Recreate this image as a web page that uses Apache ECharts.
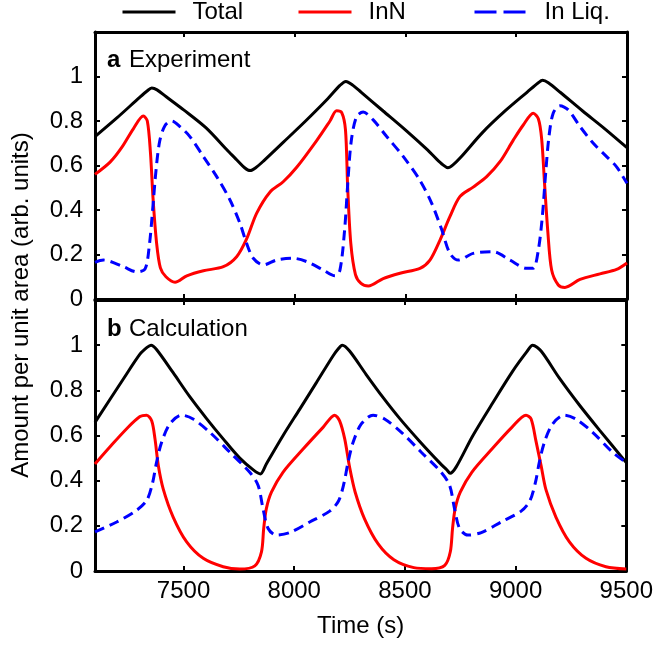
<!DOCTYPE html>
<html>
<head>
<meta charset="utf-8">
<script src="https://cdn.jsdelivr.net/npm/echarts@6/dist/echarts.min.js"></script>
<style>
    html, body { margin: 0; padding: 0; background: #fff; }
    #chart { width: 656px; height: 647px; }
</style>
</head>
<body>
<div id="chart"></div>
<script>
"use strict";

// Series names (legend)
const seriesNames = ["Total", "InN", "In Liq."];

// Panel a: Experiment, [time (s), amount]
const expTotal = [[7100,0.73],[7200,0.815],[7300,0.905],[7335,0.935],[7356,0.948],[7380,0.94],[7420,0.91],[7500,0.85],[7600,0.77],[7700,0.665],[7740,0.625],[7775,0.59],[7800,0.577],[7825,0.59],[7860,0.62],[7950,0.705],[8050,0.8],[8150,0.9],[8205,0.96],[8232,0.978],[8260,0.963],[8300,0.93],[8400,0.845],[8500,0.76],[8600,0.67],[8640,0.63],[8670,0.603],[8692,0.59],[8715,0.603],[8750,0.637],[8850,0.75],[8950,0.845],[9050,0.93],[9100,0.972],[9119,0.983],[9145,0.972],[9200,0.928],[9300,0.845],[9400,0.765],[9500,0.68]];
const expInN = [[7100,0.56],[7168,0.615],[7220,0.68],[7273,0.765],[7318,0.822],[7336,0.80],[7350,0.66],[7362,0.45],[7378,0.25],[7395,0.14],[7420,0.10],[7461,0.075],[7514,0.104],[7589,0.127],[7679,0.145],[7739,0.19],[7784,0.27],[7829,0.385],[7889,0.48],[7949,0.527],[8010,0.592],[8100,0.712],[8160,0.80],[8190,0.846],[8213,0.838],[8230,0.76],[8240,0.5],[8254,0.25],[8275,0.11],[8300,0.07],[8333,0.058],[8400,0.092],[8476,0.116],[8566,0.138],[8611,0.175],[8656,0.264],[8701,0.37],[8746,0.46],[8806,0.503],[8867,0.55],[8927,0.617],[8987,0.714],[9032,0.782],[9077,0.835],[9100,0.81],[9115,0.72],[9128,0.52],[9143,0.3],[9160,0.13],[9190,0.063],[9220,0.052],[9288,0.088],[9378,0.113],[9453,0.133],[9500,0.162]];
const expLiq = [[7100,0.165],[7138,0.175],[7228,0.145],[7288,0.122],[7326,0.135],[7345,0.24],[7360,0.4],[7375,0.576],[7392,0.71],[7416,0.78],[7446,0.8],[7483,0.775],[7528,0.73],[7589,0.64],[7649,0.55],[7709,0.445],[7754,0.34],[7784,0.25],[7814,0.183],[7859,0.153],[7919,0.175],[7994,0.183],[8055,0.168],[8130,0.13],[8183,0.104],[8205,0.13],[8226,0.31],[8241,0.53],[8256,0.71],[8280,0.82],[8310,0.84],[8355,0.805],[8416,0.73],[8491,0.64],[8566,0.533],[8619,0.43],[8664,0.312],[8701,0.205],[8739,0.175],[8806,0.205],[8897,0.212],[8972,0.175],[9047,0.138],[9077,0.138],[9100,0.22],[9118,0.37],[9133,0.565],[9148,0.73],[9167,0.835],[9197,0.868],[9235,0.85],[9288,0.775],[9348,0.7],[9408,0.64],[9453,0.594],[9500,0.52]];

// Panel b: Calculation, [time (s), amount]
const calcTotal = [[7100,0.658],[7228,0.85],[7303,0.96],[7335,0.99],[7353,1.0],[7378,0.981],[7453,0.878],[7528,0.772],[7604,0.675],[7679,0.585],[7754,0.5],[7815,0.448],[7847,0.43],[7874,0.474],[7949,0.599],[8025,0.717],[8100,0.834],[8175,0.952],[8200,0.985],[8217,1.0],[8250,0.974],[8325,0.87],[8400,0.77],[8476,0.676],[8566,0.575],[8656,0.48],[8690,0.447],[8704,0.433],[8731,0.46],[8806,0.598],[8897,0.745],[8987,0.885],[9050,0.97],[9077,1.0],[9115,0.974],[9197,0.855],[9288,0.735],[9378,0.625],[9500,0.48]];
const calcInN = [[7100,0.474],[7168,0.55],[7243,0.63],[7303,0.684],[7333,0.69],[7356,0.665],[7371,0.585],[7386,0.467],[7408,0.364],[7453,0.239],[7514,0.129],[7589,0.056],[7679,0.019],[7754,0.009],[7822,0.023],[7852,0.085],[7862,0.188],[7874,0.276],[7897,0.349],[7949,0.437],[8040,0.54],[8130,0.636],[8183,0.69],[8205,0.665],[8228,0.585],[8250,0.46],[8275,0.35],[8318,0.23],[8379,0.12],[8450,0.05],[8540,0.015],[8620,0.01],[8680,0.025],[8705,0.085],[8715,0.188],[8727,0.276],[8750,0.349],[8802,0.437],[8893,0.54],[8983,0.636],[9047,0.69],[9070,0.673],[9092,0.575],[9115,0.467],[9137,0.36],[9182,0.239],[9243,0.129],[9318,0.056],[9408,0.019],[9500,0.009]];
const calcLiq = [[7100,0.173],[7198,0.217],[7288,0.269],[7335,0.315],[7360,0.39],[7378,0.481],[7401,0.57],[7438,0.651],[7491,0.69],[7543,0.673],[7619,0.614],[7709,0.526],[7799,0.437],[7837,0.379],[7859,0.276],[7882,0.188],[7919,0.159],[7980,0.17],[8070,0.217],[8160,0.265],[8200,0.31],[8225,0.39],[8243,0.481],[8266,0.57],[8303,0.651],[8356,0.69],[8408,0.673],[8484,0.614],[8574,0.526],[8664,0.437],[8702,0.379],[8724,0.276],[8747,0.188],[8784,0.159],[8845,0.17],[8935,0.217],[9025,0.265],[9064,0.31],[9089,0.39],[9107,0.481],[9130,0.57],[9167,0.651],[9220,0.69],[9272,0.673],[9348,0.614],[9438,0.526],[9500,0.48]];

const timeRange = [7100, 9500];
const amountMax = 1.2;

const FONT = "'Liberation Sans', Arial, sans-serif";
const colors = ["#000000", "#ff0000", "#0000ff"];

(function () {
    const chart = echarts.init(document.getElementById("chart"));

    const axisLine = { show: true, onZero: false, lineStyle: { color: "#000", width: 3 } };
    const axisTick = { show: true, inside: true, length: 5, lineStyle: { color: "#000", width: 2 } };

    function xAxis(grid, pos, labels) {
        return {
            type: "value", gridIndex: grid, position: pos,
            min: timeRange[0], max: timeRange[1], minInterval: 500, maxInterval: 500,
            axisLine: axisLine, axisTick: axisTick, splitLine: { show: false },
            axisLabel: {
                show: labels, margin: 8, color: "#000", fontSize: 24, fontFamily: FONT,
                formatter: v => (v % 500 === 0 ? String(v) : "")
            },
            name: labels ? "Time (s)" : "", nameLocation: "middle", nameGap: 43,
            nameTextStyle: { color: "#000", fontSize: 24, fontFamily: FONT }
        };
    }

    function yAxis(grid, pos, labels) {
        return {
            type: "value", gridIndex: grid, position: pos,
            min: 0, max: amountMax, interval: 0.2,
            axisLine: axisLine, axisTick: axisTick, splitLine: { show: false },
            axisLabel: {
                show: labels, margin: 12, color: "#000", fontSize: 24, fontFamily: FONT,
                formatter: v => (v > 1.001 ? "" : String(Math.round(v * 10) / 10))
            }
        };
    }

    function line(name, data, xi, yi, color, dashed) {
        return {
            name: name, type: "line", xAxisIndex: xi, yAxisIndex: yi,
            data: data, symbol: "none", smooth: 0.3,
            lineStyle: { color: color, width: 3, type: dashed ? [10, 6] : "solid" },
            itemStyle: { color: color },
            z: dashed ? 3 : 2
        };
    }

    function legend(name, left, dash) {
        return {
            data: [name], left: left, top: 0, padding: 0, itemWidth: 53, itemHeight: 4,
            itemStyle: { opacity: 0 },
            lineStyle: dash ? { type: [22, 7], width: 3 } : { width: 3 },
            textStyle: { color: "#000", fontSize: 24, fontFamily: FONT, padding: [0, 0, 0, 12] },
            selectedMode: false
        };
    }

    chart.setOption({
        animation: false,
        backgroundColor: "#fff",
        legend: [legend(seriesNames[0], 121, false), legend(seriesNames[1], 297, false), legend(seriesNames[2], 473, true)],
        grid: [
            { left: 95, top: 32, width: 532, height: 267 },
            { left: 95, top: 300, width: 532, height: 271 }
        ],
        xAxis: [xAxis(0, "bottom", false), xAxis(0, "top", false), xAxis(1, "bottom", true), xAxis(1, "top", false)],
        yAxis: [yAxis(0, "left", true), yAxis(0, "right", false), yAxis(1, "left", true), yAxis(1, "right", false)],
        series: [
            line(seriesNames[0], expTotal, 0, 0, colors[0], false),
            line(seriesNames[1], expInN, 0, 0, colors[1], false),
            line(seriesNames[2], expLiq, 0, 0, colors[2], true),
            line(seriesNames[0], calcTotal, 2, 2, colors[0], false),
            line(seriesNames[1], calcInN, 2, 2, colors[1], false),
            line(seriesNames[2], calcLiq, 2, 2, colors[2], true)
        ],
        graphic: [
            { type: "text", x: 107, y: 60, style: { text: "a", font: "bold 24px " + FONT, fill: "#000", verticalAlign: "middle" } },
            { type: "text", x: 129, y: 60, style: { text: "Experiment", font: "24px " + FONT, fill: "#000", verticalAlign: "middle" } },
            { type: "text", x: 107, y: 329, style: { text: "b", font: "bold 24px " + FONT, fill: "#000", verticalAlign: "middle" } },
            { type: "text", x: 129, y: 329, style: { text: "Calculation", font: "24px " + FONT, fill: "#000", verticalAlign: "middle" } },
            {
                type: "text", x: 21, y: 305, rotation: Math.PI / 2,
                style: { text: "Amount per unit area (arb. units)", font: "24px " + FONT, fill: "#000",
                         align: "center", verticalAlign: "middle" }
            }
        ]
    });
})();
</script>
</body>
</html>
